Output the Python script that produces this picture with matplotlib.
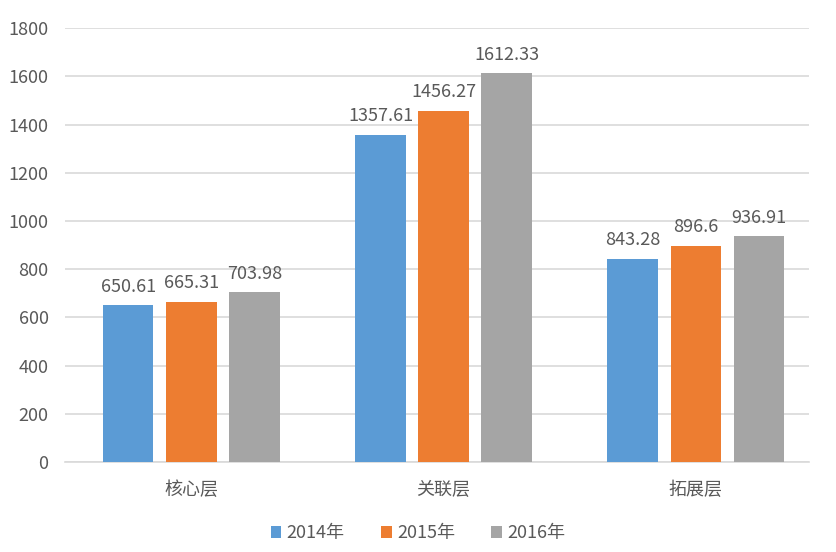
import matplotlib.pyplot as plt
import numpy as np

plt.rcParams['font.family'] = ['Noto Sans CJK SC', 'DejaVu Sans']

categories = ['核心层', '关联层', '拓展层']
series_names = ['2014年', '2015年', '2016年']
v2014 = [650.61, 1357.61, 843.28]
v2015 = [665.31, 1456.27, 896.6]
v2016 = [703.98, 1612.33, 936.91]
colors = ['#5B9BD5', '#ED7D31', '#A5A5A5']
text_color = '#595959'

fig = plt.figure(figsize=(8.36, 5.52), dpi=100)
ax = fig.add_axes([0.078, 0.163, 0.89, 0.786])

x = np.arange(len(categories))
width = 0.2
offsets = [-0.25, 0, 0.25]
for vals, name, c, off in zip([v2014, v2015, v2016], series_names, colors, offsets):
    bars = ax.bar(x + off, vals, width, color=c, label=name, zorder=3)
    for b, v in zip(bars, vals):
        ax.text(b.get_x() + b.get_width() / 2, v + 40, f'{v:g}',
                ha='center', va='bottom', fontsize=13, color=text_color)

ax.set_xlim(-0.5, 2.45)
ax.set_ylim(0, 1800)
ax.set_yticks(range(0, 1801, 200))
ax.set_xticks(x)
ax.set_xticklabels(categories)
ax.grid(axis='y', color='#D9D9D9', linewidth=1.2, zorder=0)
for s in ['top', 'right', 'left']:
    ax.spines[s].set_visible(False)
ax.spines['bottom'].set_color('#D9D9D9')
ax.spines['bottom'].set_linewidth(1.2)
ax.tick_params(axis='x', length=0, labelsize=13, colors=text_color, pad=14)
ax.tick_params(axis='y', length=0, labelsize=13, colors=text_color, pad=12)

fig.legend(loc='lower center', bbox_to_anchor=(0.5, -0.012), ncol=3, frameon=False,
           fontsize=13, labelcolor=text_color, handlelength=0.6, handleheight=0.6,
           handletextpad=0.3, columnspacing=2.0)

fig.savefig('out.png', dpi=100, facecolor='white')
